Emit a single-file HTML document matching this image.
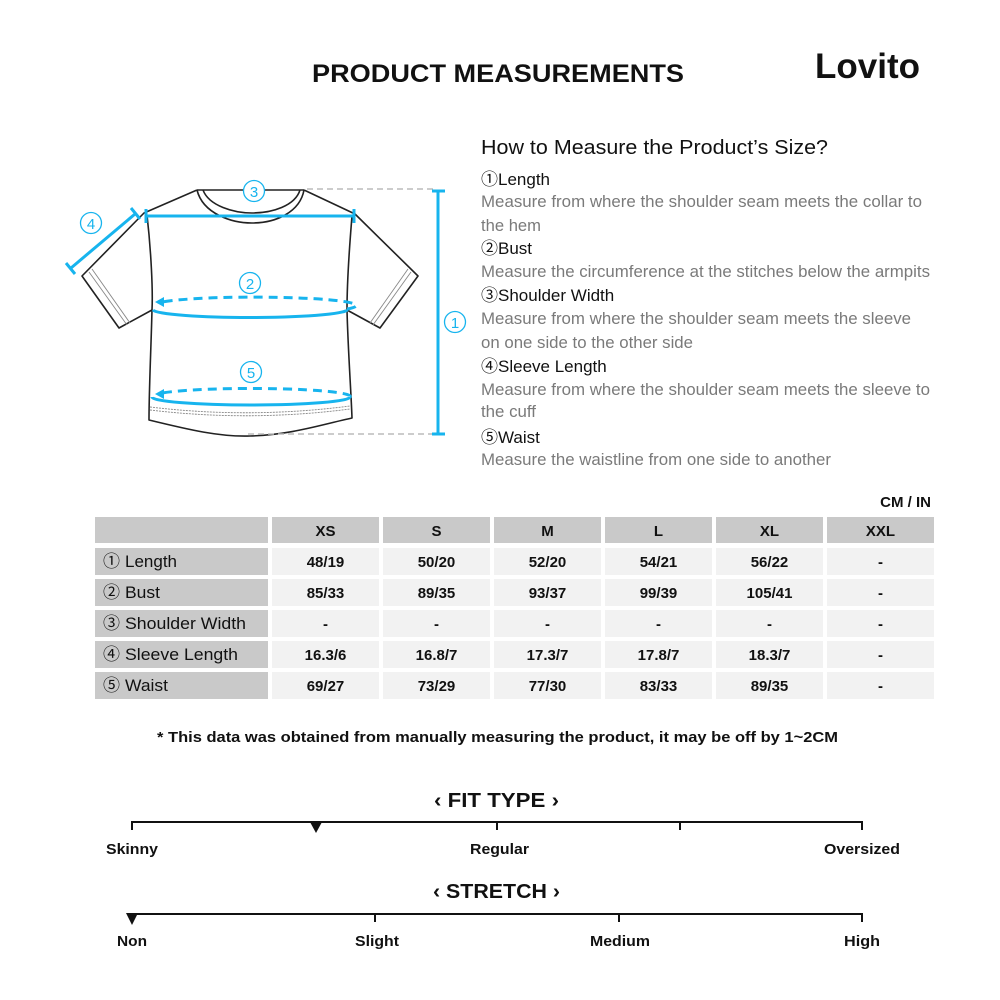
<!DOCTYPE html>
<html><head><meta charset="utf-8"><style>
html,body{margin:0;padding:0;background:#fff;}
svg{display:block;}
text{font-family:"Liberation Sans","Noto Sans CJK SC",sans-serif;}
.b{font-weight:bold;}
.g{fill:#7a7a7a;font-size:17px;}
.h{fill:#111;font-size:17px;}
.d{font-weight:bold;font-size:15px;fill:#111;text-anchor:middle;}
.cn{fill:#17b4ee;font-size:15px;text-anchor:middle;}
</style></head><body>
<svg width="1000" height="1000" viewBox="0 0 1000 1000" xmlns="http://www.w3.org/2000/svg">
<rect width="1000" height="1000" fill="#fff"/>
<!-- Title -->
<text x="312" y="82" class="b" font-size="25" textLength="372" lengthAdjust="spacingAndGlyphs" fill="#111">PRODUCT MEASUREMENTS</text>
<text x="815" y="78" class="b" font-size="35" textLength="105" lengthAdjust="spacingAndGlyphs" fill="#111">Lovito</text>

<!-- T-shirt -->
<g fill="none" stroke="#222" stroke-width="1.6" stroke-linejoin="round">
  <path d="M197,190 L144,213 L82,276 L119,328 L152,310"/>
  <path d="M304,190 L355,214 L418,276 L380,328 L347,310"/>
  <path d="M147,215 C151,250 153,290 152,310 C151,350 149,390 149,420 C190,430 220,437 250,436 C290,435 320,425 352,418 C351,390 348,350 347,310 C347,280 350,240 352,216"/>
  <path d="M197,190 L304,190"/>
  <path d="M197,190 C203,214 232,223 252,223 C276,223 300,212 304,190"/>
  <path d="M203,190 C209,206 234,213 252,213 C272,213 295,206 300,190"/>
</g>
<g fill="none" stroke="#888" stroke-width="0.9">
  <path d="M89,272 L127,325"/><path d="M92,269 L130,323"/>
  <path d="M411,272 L373,325"/><path d="M408,269 L370,323"/>
  <path d="M150,407 Q250,419 350,406" stroke-dasharray="2 1"/>
  <path d="M150,410 Q250,422 350,409" stroke-dasharray="2 1"/>
</g>
<!-- gray dashed guide lines -->
<g stroke="#bbb" stroke-width="1.5" stroke-dasharray="6 4">
  <line x1="307" y1="189" x2="436" y2="189"/>
  <line x1="248" y1="434" x2="436" y2="434"/>
</g>
<!-- blue measures -->
<g stroke="#17b4ee" fill="none" stroke-width="3">
  <line x1="146" y1="216" x2="354" y2="216"/>
  <line x1="146" y1="209" x2="146" y2="223"/>
  <line x1="354" y1="209" x2="354" y2="223"/>
  <line x1="438" y1="191" x2="438" y2="434"/>
  <line x1="432" y1="191" x2="445" y2="191"/>
  <line x1="432" y1="434" x2="445" y2="434"/>
  <line x1="135" y1="214" x2="71" y2="268"/>
  <line x1="131" y1="208" x2="140" y2="219"/>
  <line x1="66" y1="263" x2="75" y2="274"/>
  <path d="M153,310 A97,8 0 0 0 347,309"/>
  <path d="M347,309 A97,8 0 0 0 162,302" stroke-dasharray="9 6"/>
  <path d="M152,397 A99,8 0 0 0 350,397"/>
  <path d="M350,397 A99,8 0 0 0 162,393" stroke-dasharray="9 6"/>
</g>
<g fill="#17b4ee">
  <polygon points="155,302 164,297 164,307"/>
  <polygon points="155,394 164,389 164,399"/>
</g>
<g fill="#fff" stroke="#17b4ee" stroke-width="1.3">
  <circle cx="254" cy="191" r="10.5"/>
  <circle cx="91" cy="223" r="10.5"/>
  <circle cx="250" cy="283" r="10.5"/>
  <circle cx="251" cy="372" r="10.5"/>
  <circle cx="455" cy="322" r="10.5"/>
</g>
<text x="254" y="197" class="cn">3</text>
<text x="91" y="229" class="cn">4</text>
<text x="250" y="289" class="cn">2</text>
<text x="251" y="378" class="cn">5</text>
<text x="455" y="328" class="cn">1</text>

<!-- How to measure -->
<text x="481" y="154" font-size="20" fill="#111" textLength="347" lengthAdjust="spacingAndGlyphs">How to Measure the Product’s Size?</text>
<text x="481" y="185" class="h">①<tspan>Length</tspan></text>
<text x="481" y="207" class="g" textLength="441" lengthAdjust="spacingAndGlyphs">Measure from where the shoulder seam meets the collar to</text>
<text x="481" y="231" class="g" textLength="60" lengthAdjust="spacingAndGlyphs">the hem</text>
<text x="481" y="254" class="h">②<tspan>Bust</tspan></text>
<text x="481" y="277" class="g" textLength="449" lengthAdjust="spacingAndGlyphs">Measure the circumference at the stitches below the armpits</text>
<text x="481" y="301" class="h">③<tspan>Shoulder Width</tspan></text>
<text x="481" y="324" class="g" textLength="430" lengthAdjust="spacingAndGlyphs">Measure from where the shoulder seam meets the sleeve</text>
<text x="481" y="348" class="g" textLength="212" lengthAdjust="spacingAndGlyphs">on one side to the other side</text>
<text x="481" y="372" class="h">④<tspan>Sleeve Length</tspan></text>
<text x="481" y="395" class="g" textLength="449" lengthAdjust="spacingAndGlyphs">Measure from where the shoulder seam meets the sleeve to</text>
<text x="481" y="417" class="g" textLength="55" lengthAdjust="spacingAndGlyphs">the cuff</text>
<text x="481" y="443" class="h">⑤<tspan>Waist</tspan></text>
<text x="481" y="465" class="g" textLength="350" lengthAdjust="spacingAndGlyphs">Measure the waistline from one side to another</text>

<!-- Table -->
<text x="931" y="507" class="b" font-size="15" text-anchor="end" fill="#111">CM / IN</text>
<g fill="#c9c9c9">
  <rect x="95" y="517" width="173" height="26"/>
  <rect x="272" y="517" width="107" height="26"/>
  <rect x="383" y="517" width="107" height="26"/>
  <rect x="494" y="517" width="107" height="26"/>
  <rect x="605" y="517" width="107" height="26"/>
  <rect x="716" y="517" width="107" height="26"/>
  <rect x="827" y="517" width="107" height="26"/>
  <rect x="95" y="548" width="173" height="27"/>
  <rect x="95" y="579" width="173" height="27"/>
  <rect x="95" y="610" width="173" height="27"/>
  <rect x="95" y="641" width="173" height="27"/>
  <rect x="95" y="672" width="173" height="27"/>
</g>
<g fill="#f2f2f2">
  <rect x="272" y="548" width="107" height="27"/><rect x="383" y="548" width="107" height="27"/><rect x="494" y="548" width="107" height="27"/><rect x="605" y="548" width="107" height="27"/><rect x="716" y="548" width="107" height="27"/><rect x="827" y="548" width="107" height="27"/>
  <rect x="272" y="579" width="107" height="27"/><rect x="383" y="579" width="107" height="27"/><rect x="494" y="579" width="107" height="27"/><rect x="605" y="579" width="107" height="27"/><rect x="716" y="579" width="107" height="27"/><rect x="827" y="579" width="107" height="27"/>
  <rect x="272" y="610" width="107" height="27"/><rect x="383" y="610" width="107" height="27"/><rect x="494" y="610" width="107" height="27"/><rect x="605" y="610" width="107" height="27"/><rect x="716" y="610" width="107" height="27"/><rect x="827" y="610" width="107" height="27"/>
  <rect x="272" y="641" width="107" height="27"/><rect x="383" y="641" width="107" height="27"/><rect x="494" y="641" width="107" height="27"/><rect x="605" y="641" width="107" height="27"/><rect x="716" y="641" width="107" height="27"/><rect x="827" y="641" width="107" height="27"/>
  <rect x="272" y="672" width="107" height="27"/><rect x="383" y="672" width="107" height="27"/><rect x="494" y="672" width="107" height="27"/><rect x="605" y="672" width="107" height="27"/><rect x="716" y="672" width="107" height="27"/><rect x="827" y="672" width="107" height="27"/>
</g>
<g class="d">
  <text x="325.5" y="536" class="d" font-size="16">XS</text>
  <text x="436.5" y="536" class="d" font-size="16">S</text>
  <text x="547.5" y="536" class="d" font-size="16">M</text>
  <text x="658.5" y="536" class="d" font-size="16">L</text>
  <text x="769.5" y="536" class="d" font-size="16">XL</text>
  <text x="880.5" y="536" class="d" font-size="16">XXL</text>

  <text x="325.5" y="567" class="d">48/19</text><text x="436.5" y="567" class="d">50/20</text><text x="547.5" y="567" class="d">52/20</text><text x="658.5" y="567" class="d">54/21</text><text x="769.5" y="567" class="d">56/22</text><text x="880.5" y="567" class="d">-</text>
  <text x="325.5" y="598" class="d">85/33</text><text x="436.5" y="598" class="d">89/35</text><text x="547.5" y="598" class="d">93/37</text><text x="658.5" y="598" class="d">99/39</text><text x="769.5" y="598" class="d">105/41</text><text x="880.5" y="598" class="d">-</text>
  <text x="325.5" y="629" class="d">-</text><text x="436.5" y="629" class="d">-</text><text x="547.5" y="629" class="d">-</text><text x="658.5" y="629" class="d">-</text><text x="769.5" y="629" class="d">-</text><text x="880.5" y="629" class="d">-</text>
  <text x="325.5" y="660" class="d">16.3/6</text><text x="436.5" y="660" class="d">16.8/7</text><text x="547.5" y="660" class="d">17.3/7</text><text x="658.5" y="660" class="d">17.8/7</text><text x="769.5" y="660" class="d">18.3/7</text><text x="880.5" y="660" class="d">-</text>
  <text x="325.5" y="691" class="d">69/27</text><text x="436.5" y="691" class="d">73/29</text><text x="547.5" y="691" class="d">77/30</text><text x="658.5" y="691" class="d">83/33</text><text x="769.5" y="691" class="d">89/35</text><text x="880.5" y="691" class="d">-</text>
</g>
<g font-size="17" fill="#111">
  <text x="103" y="567">①</text><text x="125" y="567" textLength="52" lengthAdjust="spacingAndGlyphs">Length</text>
  <text x="103" y="598">②</text><text x="125" y="598" textLength="35" lengthAdjust="spacingAndGlyphs">Bust</text>
  <text x="103" y="629">③</text><text x="125" y="629" textLength="121" lengthAdjust="spacingAndGlyphs">Shoulder Width</text>
  <text x="103" y="660">④</text><text x="125" y="660" textLength="113" lengthAdjust="spacingAndGlyphs">Sleeve Length</text>
  <text x="103" y="691">⑤</text><text x="125" y="691" textLength="43" lengthAdjust="spacingAndGlyphs">Waist</text>
</g>

<text x="157" y="742" class="b" font-size="15" fill="#111" textLength="681" lengthAdjust="spacingAndGlyphs">* This data was obtained from manually measuring the product, it may be off by 1~2CM</text>

<!-- Fit type -->
<text x="434" y="807" class="b" font-size="20" fill="#111" textLength="125" lengthAdjust="spacingAndGlyphs">‹ FIT TYPE ›</text>
<g stroke="#111" stroke-width="2">
  <line x1="131" y1="822" x2="863" y2="822"/>
  <line x1="132" y1="821" x2="132" y2="830"/>
  <line x1="497" y1="821" x2="497" y2="830"/>
  <line x1="680" y1="821" x2="680" y2="830"/>
  <line x1="862" y1="821" x2="862" y2="830"/>
</g>
<polygon points="310,822 322,822 316,833" fill="#111"/>
<g class="b" font-size="15" fill="#111">
  <text x="106" y="854" textLength="52" lengthAdjust="spacingAndGlyphs">Skinny</text>
  <text x="470" y="854" textLength="59" lengthAdjust="spacingAndGlyphs">Regular</text>
  <text x="824" y="854" textLength="76" lengthAdjust="spacingAndGlyphs">Oversized</text>
</g>

<!-- Stretch -->
<text x="433" y="898" class="b" font-size="20" fill="#111" textLength="127" lengthAdjust="spacingAndGlyphs">‹ STRETCH ›</text>
<g stroke="#111" stroke-width="2">
  <line x1="131" y1="914" x2="863" y2="914"/>
  <line x1="375" y1="913" x2="375" y2="922"/>
  <line x1="619" y1="913" x2="619" y2="922"/>
  <line x1="862" y1="913" x2="862" y2="922"/>
</g>
<polygon points="126,913 138,913 132,925" fill="#111"/>
<g class="b" font-size="15" fill="#111">
  <text x="117" y="946" textLength="30" lengthAdjust="spacingAndGlyphs">Non</text>
  <text x="355" y="946" textLength="44" lengthAdjust="spacingAndGlyphs">Slight</text>
  <text x="590" y="946" textLength="60" lengthAdjust="spacingAndGlyphs">Medium</text>
  <text x="844" y="946" textLength="36" lengthAdjust="spacingAndGlyphs">High</text>
</g>
</svg>
</body></html>
